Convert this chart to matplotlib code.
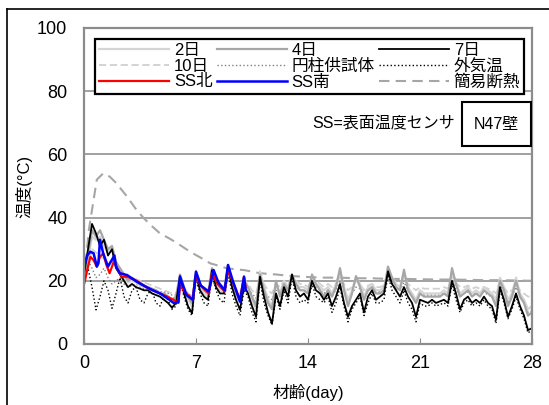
import numpy as np
import matplotlib
matplotlib.use("Agg")
import matplotlib.pyplot as plt
from matplotlib.lines import Line2D
from matplotlib.patches import Rectangle

plt.rcParams['font.family'] = ['Liberation Sans', 'Noto Sans CJK JP']

# time grid for the long records (6-hour readings, day 0 to 28)
t = np.arange(0, 28.01, 0.25)

d2 = [20, 27, 34, 33, 34, 31, 29, 30, 25, 23, 21, 19.5, 20, 19.5, 18.5, 18,
      17.5, 17, 16.5, 16, 15.5, 14.5, 13.5, 14.5, 21, 17, 14, 12, 22.5, 18, 16, 15,
      23, 19, 17, 16.5, 24, 19, 15, 13, 21, 18, 14, 11, 23, 18, 14, 12,
      19, 16, 20, 18, 21, 19, 18, 18, 17, 21, 19, 18, 17, 18, 16, 19,
      23, 18, 14, 17, 21, 19, 15, 18, 19, 17, 17, 18, 23, 21, 19, 18,
      22.5, 18, 16, 14, 17, 16, 16, 16, 16, 16, 17, 16, 23, 19, 16, 17,
      18, 16, 17, 16, 18, 17, 16, 14, 21, 18, 14, 16, 21, 16, 14, 11, 12]
d4 = [21, 28, 36, 34, 36, 33, 30, 31, 26, 24, 22, 20, 21, 20, 19, 18.5,
      18, 17.5, 17, 16, 16, 15, 14, 15, 22, 18, 15, 13, 23, 19, 17, 16,
      24, 20, 18, 17, 25, 20, 16, 14, 20, 18, 15, 12, 22, 17, 13, 11,
      20, 15, 19, 17, 22, 19, 17, 17, 16, 22, 19, 17, 15, 17, 15, 18,
      24, 17, 12, 16, 21.5, 18, 14, 17, 18, 16, 16, 17, 24.5, 21, 18, 17,
      23.5, 17, 15, 13, 16, 15, 15, 15, 15, 15, 16, 15, 24, 19, 15, 16,
      17, 15, 16, 15, 17, 16, 15, 12, 20, 17, 12, 15, 20, 15, 13, 9, 10]
d7 = [22, 30, 38, 35, 31, 33, 28, 30, 24, 22, 20, 18, 19, 18, 17.5, 17,
      17, 16, 15.5, 15, 14, 13, 11.5, 13, 21.5, 16, 12, 9.7, 22, 17, 15, 14,
      23.4, 18, 16, 16, 24.5, 18, 14, 10.8, 18.5, 16, 12, 8.6, 21.3, 15, 10, 6.5,
      16, 12, 18, 15, 22, 17, 15, 16, 14, 20, 17, 16, 14, 16, 12, 15,
      19, 13, 8.6, 12, 14, 16, 10, 15, 17, 14, 15, 16, 23, 19, 17, 15,
      18, 15, 13, 8.6, 14, 13.5, 13, 14, 13, 13.5, 14, 13, 20, 16, 11, 14,
      15, 13, 14, 13, 15, 13, 12, 7.6, 18, 14, 8.6, 12, 16, 12, 9, 4.4, 5]
d10 = [20, 24, 30, 29, 28, 27, 26, 26, 24, 23, 22, 21, 21, 20.5, 20, 19.5,
       19, 18.5, 18, 17.5, 17, 16.5, 16, 16, 19, 18, 16, 15, 20, 18, 17, 16.5,
       21, 19, 18, 17.5, 22, 19.5, 17.5, 16, 20, 19, 17, 16, 21, 19, 17, 16,
       19, 18, 20, 19, 21, 20, 19, 19, 18, 21, 20, 19, 18, 19, 18, 19,
       21, 19, 17, 18, 20, 19, 17, 18.5, 19, 18, 18, 18.5, 21.5, 20.5, 19.5, 19,
       21, 19, 18, 17, 18, 17.5, 17.5, 17.5, 17.5, 17.5, 18, 17.5, 21, 19.5, 18, 18,
       18.5, 17.5, 18, 17.5, 18, 17.5, 17, 16, 19.5, 18, 16, 17, 19, 17, 16, 15, 15]
cylinder = [20, 26.6, 24, 21, 22, 24, 21, 19, 20, 21, 19, 18, 18.5, 19, 18, 17.5,
            17.5, 17.5, 17, 16.5, 16.5, 16, 15.5, 15.5, 18, 17, 16, 15, 19, 17.5, 16.5, 16,
            20, 18, 17, 16.5, 21, 18, 16.5, 15, 18.5, 17.5, 16, 14.5, 19.5, 17, 15, 14,
            17, 16, 18.5, 17, 20, 18, 17, 17, 16, 19.5, 18, 17, 16, 17, 15.5, 17,
            20, 17, 14, 16, 18, 17.5, 15, 17, 17.5, 16.5, 16.5, 17, 21, 19, 17.5, 17,
            19.5, 17, 15.5, 13.5, 16, 15.5, 15.5, 15.5, 15.5, 15.5, 16, 15.5, 20, 17.5, 15, 16,
            16.5, 15.5, 16, 15.5, 16.5, 15.5, 15, 12.5, 18.5, 16.5, 13, 15, 18, 15, 13, 10, 10.5]
outdoor = [20, 24, 18, 10.8, 15, 20, 17, 11.3, 16, 21, 15, 13, 17, 18, 14, 13,
           16, 17, 13, 12, 15, 14, 11, 12, 20, 15, 11, 9, 21, 16, 13, 12,
           22, 17, 14, 13, 23, 16, 12, 9, 17, 15, 10, 7, 20, 13, 9, 6,
           15, 11, 17, 13, 21, 15, 13, 14, 13, 19, 15, 14, 13, 15, 10, 13,
           18, 12, 7, 11, 13, 15, 9, 13, 16, 13, 13, 14, 22, 17, 15, 13,
           17, 13, 11, 7, 13, 12, 12, 13, 12, 12.5, 13, 12, 19, 14, 10, 13,
           14, 12, 13, 12, 14, 12, 11, 6.5, 17, 13, 8, 11, 15, 11, 8, 3.5, 4.5]

# simple insulation box
t_kani = [0, 0.3, 0.6, 0.8, 1.2, 1.6, 2.0, 2.7, 3.2, 3.7, 4.2, 4.75, 5.3, 5.8, 6.3, 6.8,
          7.4, 7.9, 8.4, 8.9, 9.5, 10, 11, 12, 13, 14, 15, 16, 17, 18, 19, 20,
          21, 22, 23, 24, 25, 26, 27, 28]
kani = [20, 36, 45.6, 52, 54, 53, 51, 46.6, 43, 40, 37.5, 35, 33.5, 32, 30.3, 28.7,
        27, 25.5, 24.8, 24, 23.6, 23.4, 22.4, 22, 21.5, 21.2, 21, 21, 20.8, 20.8, 20.6, 20.6,
        20.5, 20.4, 20.4, 20.3, 20.2, 20.2, 20.1, 20]

# surface sensors
t_ssn = [0, 0.06, 0.2, 0.4, 0.6, 0.8, 1.0, 1.2, 1.4, 1.6, 1.9, 2.1, 2.35, 2.7, 3.3, 3.9,
         4.3, 4.75, 5.2, 5.6, 5.9, 6.0, 6.3, 6.8, 6.95, 7.3, 7.8, 8.0, 8.35, 8.8, 9.0, 9.35,
         9.75, 10.0, 10.1]
ss_north = [19, 20, 23.4, 27.6, 26.5, 24.5, 27.6, 28.7, 25, 22.4, 26.6, 23.5, 21.3, 21.3, 20, 18,
            17, 16, 15, 14, 13, 18.5, 16.5, 14, 21.3, 18.5, 16, 22.4, 19, 16.6, 23.4, 19,
            14, 21.3, 18]
t_sss = [0, 0.06, 0.2, 0.4, 0.6, 0.8, 0.9, 1.0, 1.2, 1.5, 1.9, 2.0, 2.25, 2.7, 3.3, 3.9,
         4.3, 4.75, 5.2, 5.6, 5.9, 6.0, 6.4, 6.8, 7.0, 7.3, 7.8, 8.1, 8.4, 8.8, 9.0, 9.3,
         9.75, 10.0, 10.1]
ss_south = [24, 25.5, 28, 29.2, 28.7, 24.5, 25.5, 33, 28.7, 24.5, 28, 24.5, 22.4, 21.8, 19.7, 18,
            17, 16, 14.5, 13, 13.3, 21.3, 15.5, 14, 22.9, 18.5, 16.6, 23.4, 19.5, 17, 25, 20,
            13.4, 21.3, 17]

fig = plt.figure(figsize=(5.49, 4.05), dpi=100)
ax = fig.add_axes([84 / 549, 1 - 344 / 405, 448 / 549, 316 / 405])

ax.set_xlim(0, 28)
ax.set_ylim(0, 100)
ax.set_xticks([0, 7, 14, 21, 28])
ax.set_yticks([0, 20, 40, 60, 80, 100])
ax.grid(axis='y', color='#9a9a9a', lw=1.3)
ax.set_axisbelow(True)
for s in ax.spines.values():
    s.set_color('#8c8c8c')
    s.set_linewidth(1.6)
ax.tick_params(axis='x', direction='in', length=4, color='#8c8c8c', labelsize=13, pad=8)
ax.tick_params(axis='y', length=0, labelsize=13, pad=12)

h_kani, = ax.plot(t_kani, kani, color='#a6a6a6', lw=1.5, ls=(0, (5, 3)), label='簡易断熱')
h_d10, = ax.plot(t, d10, color='#d0d0d0', lw=1.3, ls=(0, (4, 2)), label='10日')
h_cyl, = ax.plot(t, cylinder, color='#808080', lw=1.0, ls=':', label='円柱供試体')
h_out, = ax.plot(t, outdoor, color='black', lw=1.0, ls=':', label='外気温')
h_d2, = ax.plot(t, d2, color='#d5d5d5', lw=1.6, label='2日')
h_d4, = ax.plot(t, d4, color='#a6a6a6', lw=1.6, label='4日')
h_d7, = ax.plot(t, d7, color='black', lw=1.3, label='7日')
h_n, = ax.plot(t_ssn, ss_north, color='#ff0000', lw=1.6, label='SS北')
h_s, = ax.plot(t_sss, ss_south, color='#0000ff', lw=1.8, label='SS南')

handles = [h_d2, h_d10, h_n, h_d4, h_cyl, h_s, h_d7, h_out, h_kani]
leg = ax.legend(handles=handles, ncol=3, loc='upper left',
                bbox_to_anchor=(0.007, 0.0, 0.993, 0.99), mode='expand',
                fontsize=12, handlelength=4.2, handletextpad=0.3,
                labelspacing=0.05, borderpad=0.2, columnspacing=1.0,
                fancybox=False, framealpha=1, edgecolor='black')
leg.get_frame().set_linewidth(1.6)

ax.text(0.828, 0.696, 'SS=表面温度センサ', transform=ax.transAxes,
        ha='right', va='center', fontsize=11.5)
ax.add_patch(Rectangle((0.844, 0.627), 0.154, 0.139, transform=ax.transAxes,
                       fill=False, ec='black', lw=1.5, zorder=5))
ax.text(0.921, 0.696, 'N47壁', transform=ax.transAxes,
        ha='center', va='center', fontsize=11.5, zorder=6)

ax.set_xlabel('材齢(day)', fontsize=12, va='center')
ax.xaxis.set_label_coords(0.5, -0.155)
ax.set_ylabel('温度(°C)', fontsize=12, va='center')
ax.yaxis.set_label_coords(-0.134, 0.5)

# outer frame of the chart area
fig.add_artist(Line2D([7 / 549, 7 / 549], [0, 1 - 9 / 405], color='black', lw=1.2))
fig.add_artist(Line2D([7 / 549, 1], [1 - 9 / 405, 1 - 9 / 405], color='black', lw=1.2))

fig.savefig('out.png', dpi=100)
